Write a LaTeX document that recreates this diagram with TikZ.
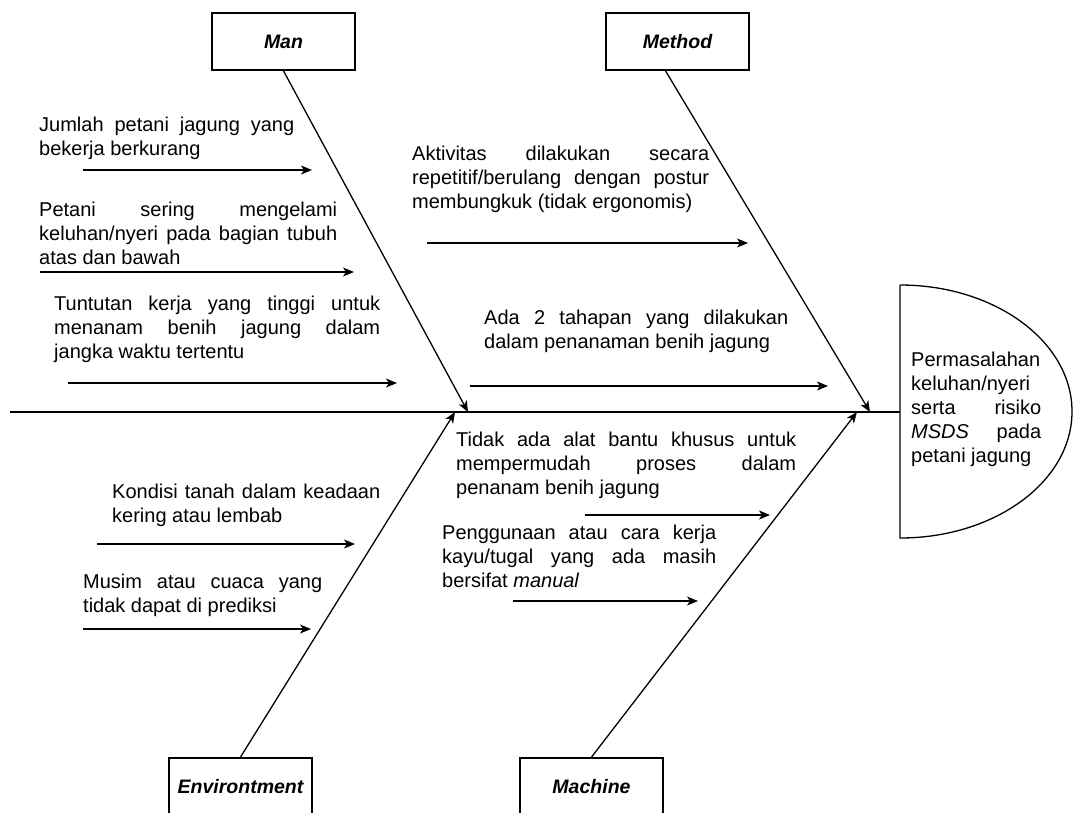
\documentclass[tikz,border=0pt]{standalone}
\usepackage{fontspec}
\setmainfont{Liberation Sans}
\usetikzlibrary{arrows.meta}
\begin{document}
\begin{tikzpicture}[x=1pt,y=-1pt,
  tip/.style={-{Stealth[length=11pt,width=9pt,inset=3pt]}},
  smallarrow/.style={tip,line width=1.4pt},
  bone/.style={tip,line width=1.3pt},
  catbox/.style={draw,line width=1.8pt,minimum width=143pt,minimum height=57pt,inner sep=0pt,
    font=\fontsize{19.5}{23}\selectfont\bfseries\itshape},
  cause/.style={anchor=base west,inner sep=0pt,align=justify,
    font=\fontsize{20}{24}\selectfont,
    execute at begin node={\baselineskip=24pt\spaceskip=0.278em plus 3em minus 0.05em\relax
      \tolerance=9999\hyphenpenalty=10000\exhyphenpenalty=10000}},
]
\useasboundingbox (0,0) rectangle (1078,812);
\clip (0,0) rectangle (1078,812);

% head
\draw[line width=1.3pt] (900,285) -- (900,538)
  .. controls (995,538) and (1072,481.4) .. (1072,411.5)
  .. controls (1072,341.6) and (995,285) .. (900,285);
\coordinate (headL) at (900,412);
\coordinate (spineL) at (10,412);
\draw[line width=1.6pt] (spineL) -- (headL);

% category boxes
\node[catbox] (man) at (283.5,41.5) {Man};
\node[catbox] (method) at (677.5,41.5) {Method};
\node[catbox] (env) at (240.5,786.5) {Environtment};
\node[catbox] (mach) at (591.5,786.5) {Machine};

\coordinate (tman) at (468,412);
\coordinate (tmethod) at (870,412);
\coordinate (tenv) at (455,412);
\coordinate (tmach) at (857,412);
\coordinate (smethod) at (665,70);

\draw[bone] (man.south) -- (tman);
\draw[bone] (smethod) -- (tmethod);
\draw[bone] (env.north) -- (tenv);
\draw[bone] (mach.north) -- (tmach);

% small arrows
\coordinate (a1s) at (83,170);  \coordinate (a1e) at (312,170);
\coordinate (a2s) at (40,272);  \coordinate (a2e) at (354,272);
\coordinate (a3s) at (68,383);  \coordinate (a3e) at (397,383);
\coordinate (a4s) at (427,243); \coordinate (a4e) at (748,243);
\coordinate (a5s) at (470,386); \coordinate (a5e) at (828,386);
\coordinate (a6s) at (97,544);  \coordinate (a6e) at (355,544);
\coordinate (a7s) at (83,629);  \coordinate (a7e) at (311,629);
\coordinate (a8s) at (585,515); \coordinate (a8e) at (770,515);
\coordinate (a9s) at (513,601); \coordinate (a9e) at (698,601);
\foreach \i in {1,...,9}{\draw[smallarrow] (a\i s) -- (a\i e);}

% texts
\node[cause,text width=255pt] (t1) at (39,131.7)
  {Jumlah petani jagung yang\linebreak bekerja berkurang};
\node[cause,text width=298pt] (t2) at (39,216.7)
  {Petani sering mengelami\linebreak keluhan/nyeri pada bagian tubuh\linebreak atas dan bawah};
\node[cause,text width=326pt] (t3) at (54,310.7)
  {Tuntutan kerja yang tinggi untuk\linebreak menanam benih jagung dalam\linebreak jangka waktu tertentu};
\node[cause,text width=297pt] (t4) at (412,160.7)
  {Aktivitas dilakukan secara\linebreak repetitif/berulang dengan postur\linebreak membungkuk (tidak ergonomis)};
\node[cause,text width=304pt] (t5) at (484,324)
  {Ada 2 tahapan yang dilakukan\linebreak dalam penanaman benih jagung};
\node[cause,text width=268pt] (t6) at (112,498)
  {Kondisi tanah dalam keadaan\linebreak kering atau lembab};
\node[cause,text width=239pt] (t7) at (83,588)
  {Musim atau cuaca yang\linebreak tidak dapat di prediksi};
\node[cause,text width=340pt] (t8) at (456,446.7)
  {Tidak ada alat bantu khusus untuk\linebreak mempermudah proses dalam\linebreak penanam benih jagung};
\node[cause,text width=274pt] (t9) at (442,539)
  {Penggunaan atau cara kerja\linebreak kayu/tugal yang ada masih\linebreak bersifat \textit{manual}};
\node[cause,text width=130pt] (head) at (911,366)
  {Permasalahan\linebreak keluhan/nyeri\linebreak serta risiko\linebreak \textit{MSDS} pada\linebreak petani jagung};
\end{tikzpicture}
\end{document}
